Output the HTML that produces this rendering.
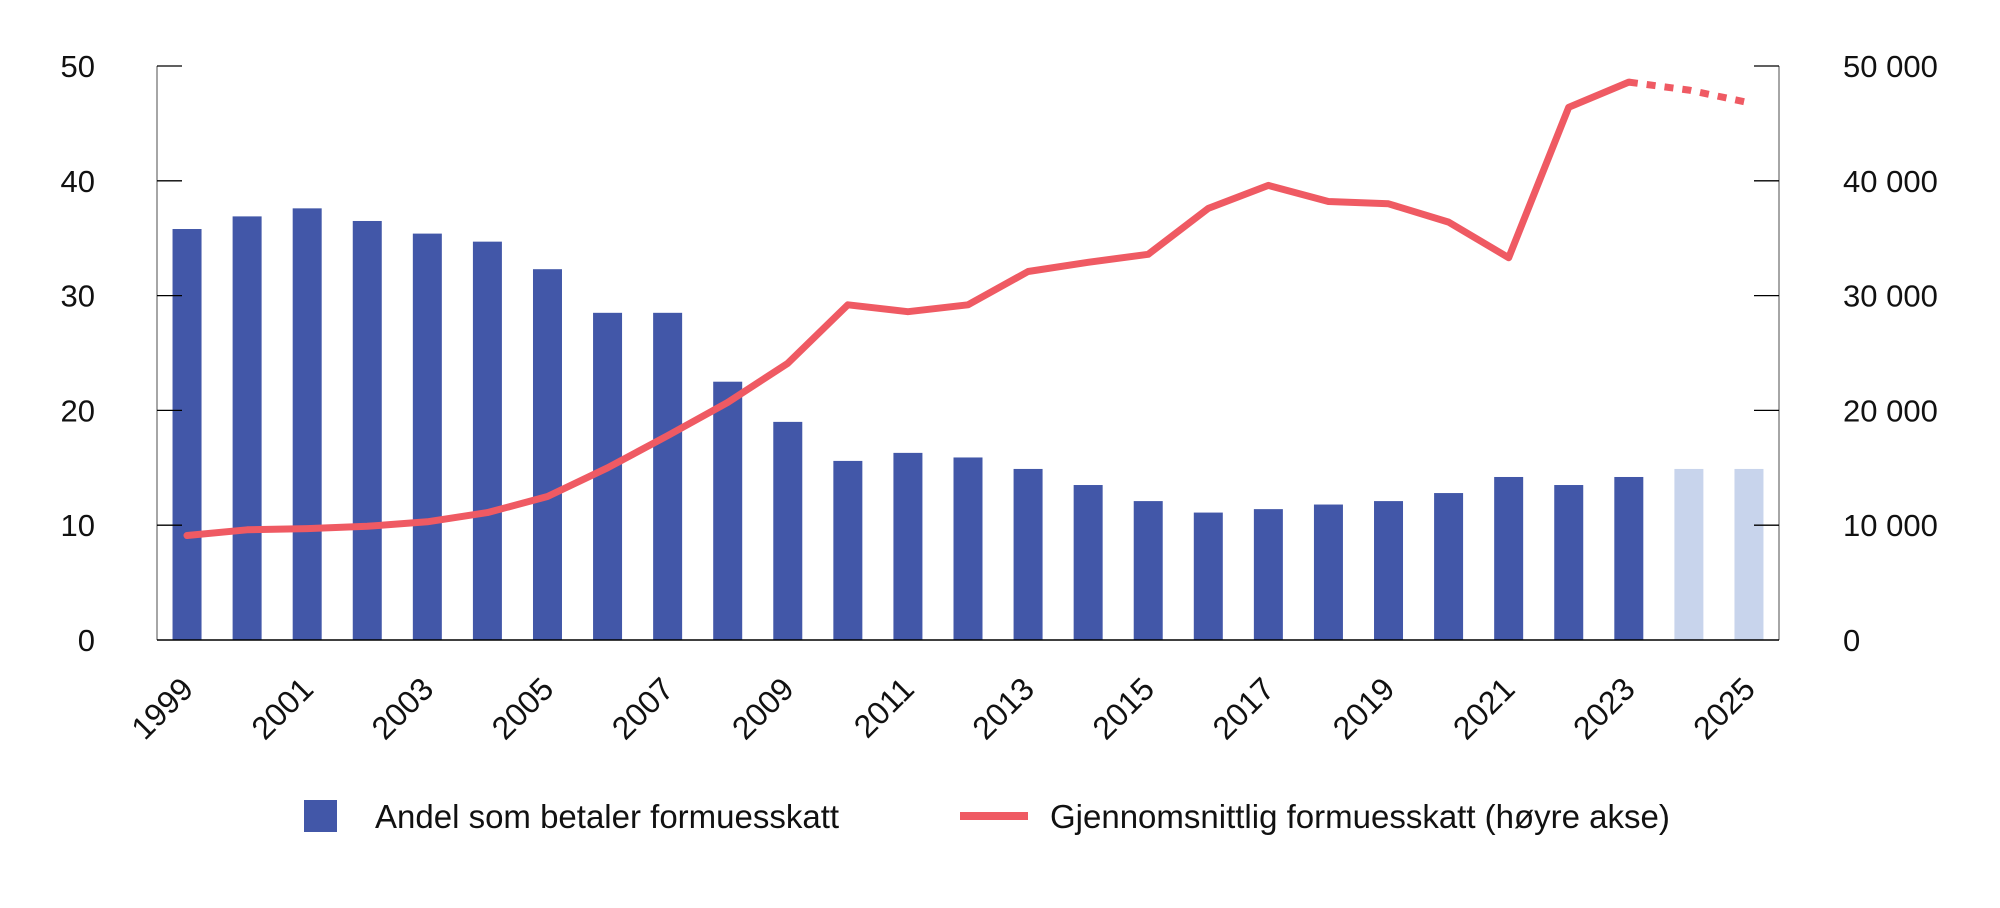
<!DOCTYPE html>
<html><head><meta charset="utf-8"><style>
html,body{margin:0;padding:0;background:#fff;}
svg{display:block;font-family:"Liberation Sans",Arial,sans-serif;}
</style></head><body>
<svg id="chart" width="2000" height="908" viewBox="0 0 2000 908">
<g id="grid"></g><g id="bars"></g><g id="line"></g><g id="axes"></g>
<g id="legend">
 <rect x="304" y="800" width="33" height="32" fill="#4257a8"/>
 <text x="375" y="828" font-size="33" fill="#111">Andel som betaler formuesskatt</text>
 <line x1="960" y1="816" x2="1028" y2="816" stroke="#ef5a63" stroke-width="8"/>
 <text x="1050" y="828" font-size="33" fill="#111">Gjennomsnittlig formuesskatt (høyre akse)</text>
</g>
</svg>
<script>
const years=[1999,2000,2001,2002,2003,2004,2005,2006,2007,2008,2009,2010,2011,2012,2013,2014,2015,2016,2017,2018,2019,2020,2021,2022,2023,2024,2025];
const shareValues=[35.8,36.9,37.6,36.5,35.4,34.7,32.3,28.5,28.5,22.5,19.0,15.6,16.3,15.9,14.9,13.5,12.1,11.1,11.4,11.8,12.1,12.8,14.2,13.5,14.2,14.9,14.9];
const avgTaxValues=[9100,9600,9700,9900,10300,11100,12500,15000,17800,20700,24100,29200,28600,29200,32100,32900,33600,37600,39600,38200,38000,36400,33300,46400,48600,47900,46800];
const projectedFrom=2024;
const leftTicks=[0,10,20,30,40,50];
const rightTicks=[0,10000,20000,30000,40000,50000];
const rightTickLabels=["0","10 000","20 000","30 000","40 000","50 000"];

const NS="http://www.w3.org/2000/svg";
const X0=157,X1=1779,Y0=640,Y1=66;
const band=(X1-X0)/years.length;
const xC=i=>X0+band*(i+0.5);
const yL=v=>Y0-(v/50)*(Y0-Y1);
const yR=v=>Y0-(v/50000)*(Y0-Y1);
function mk(t,a,p){const e=document.createElementNS(NS,t);for(const k in a)e.setAttribute(k,a[k]);(p||document.getElementById('chart')).appendChild(e);return e;}
const gB=document.getElementById('bars'),gL=document.getElementById('line'),gA=document.getElementById('axes');
years.forEach((yr,i)=>{
 const r=mk('rect',{x:xC(i)-14.5,y:yL(shareValues[i]),width:29,height:Y0-yL(shareValues[i]),fill:yr>=projectedFrom?'#c8d4ec':'#4257a8'},gB);
 
 
});
let solid='',dash='';
years.forEach((yr,i)=>{
 const p=xC(i).toFixed(1)+','+yR(avgTaxValues[i]).toFixed(1)+' ';
 if(yr<projectedFrom)solid+=p;
 if(yr>=projectedFrom-1)dash+=p;
});
const l1=mk('polyline',{points:solid,fill:'none',stroke:'#ef5a63','stroke-width':7,'stroke-linejoin':'round','stroke-linecap':'round'},gL);


const l2=mk('polyline',{points:dash,fill:'none',stroke:'#ef5a63','stroke-width':7,'stroke-dasharray':'9 9'},gL);


const al=mk('line',{x1:X0,y1:Y1,x2:X0,y2:Y0,stroke:'#888','stroke-width':1.5},gA);

const ar=mk('line',{x1:X1,y1:Y1,x2:X1,y2:Y0,stroke:'#888','stroke-width':1.5},gA);

const ab=mk('line',{x1:X0,y1:Y0,x2:X1,y2:Y0,stroke:'#000','stroke-width':1.5},gA);

leftTicks.forEach(v=>{
 if(v>0)mk('line',{x1:X0,y1:yL(v),x2:X0+25,y2:yL(v),stroke:'#000','stroke-width':1.3},gA);
 const t=mk('text',{x:95,y:yL(v)+11,'font-size':31,'text-anchor':'end',fill:'#111'},gA);t.textContent=v;
 
});
rightTicks.forEach((v,i)=>{
 if(v>0)mk('line',{x1:X1-25,y1:yR(v),x2:X1,y2:yR(v),stroke:'#000','stroke-width':1.3},gA);
 const t=mk('text',{x:1843,y:yR(v)+11,'font-size':31,fill:'#111'},gA);t.textContent=rightTickLabels[i];
 
});
years.forEach((yr,i)=>{
 if(i%2)return;
 const x=xC(i)+8,y=691;
 const t=mk('text',{x:x,y:y,'font-size':32,'text-anchor':'end',fill:'#111',transform:`rotate(-45 ${x} ${y})`},gA);
 t.textContent=yr;
 
});
</script>
</body></html>
